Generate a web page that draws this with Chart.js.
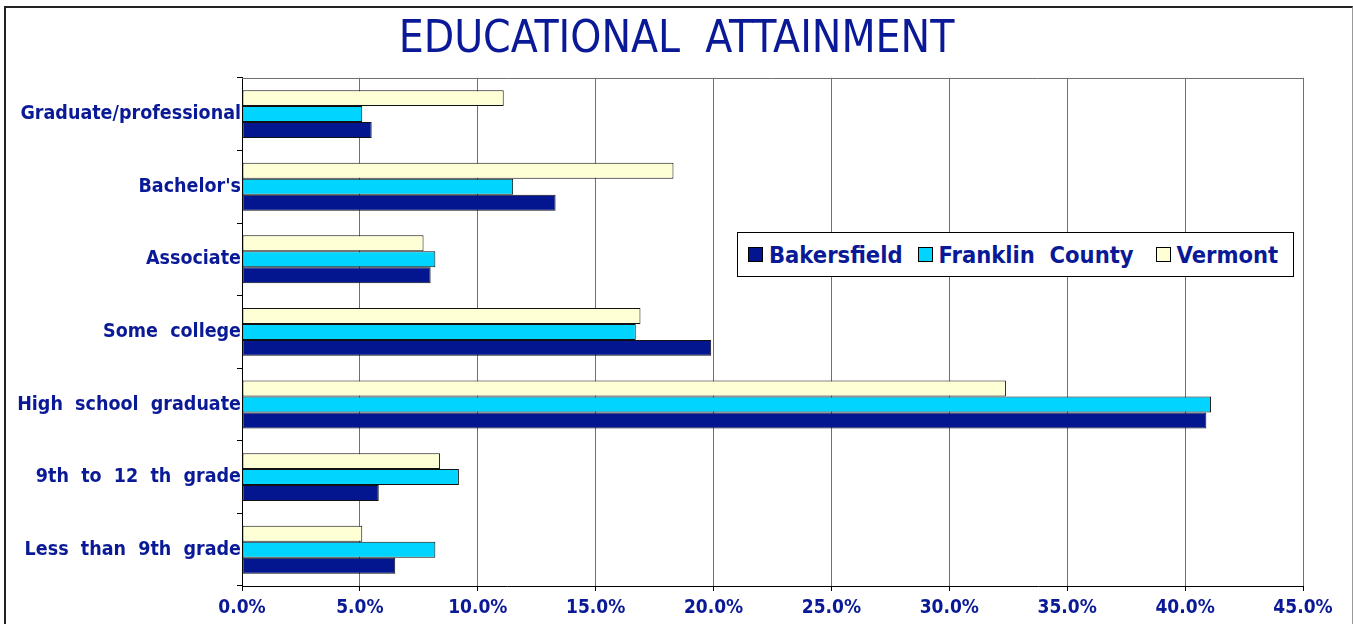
<!DOCTYPE html>
<html>
<head>
<meta charset="utf-8">
<script src="https://cdn.jsdelivr.net/npm/chart.js@4.4.0/dist/chart.umd.min.js"></script>
<style>
html,body{margin:0;padding:0;background:#fff;width:1353px;height:624px;overflow:hidden;}
#frame{position:absolute;left:4px;top:6px;width:1349px;height:660px;box-sizing:border-box;border-left:2px solid #222;border-top:2px solid #222;border-right:1px solid #999;}
#wrap{position:absolute;left:0;top:0;width:1353px;height:624px;}
#legend{position:absolute;left:737px;top:232px;width:557px;height:45px;box-sizing:border-box;border:1px solid #000;background:#fff;display:flex;align-items:center;padding-left:10px;font-family:"DejaVu Sans Condensed","DejaVu Sans",sans-serif;font-weight:bold;font-size:23.5px;color:#0a1996;white-space:pre;}
#legend .item{display:flex;align-items:center;}
#legend .item:nth-child(1){margin-right:15px;}
#legend .item:nth-child(2){margin-right:22px;}
#legend .sw{width:15px;height:15px;box-sizing:border-box;border:1px solid #000;margin-right:6px;}
</style>
</head>
<body>
<div id="frame"></div>
<div id="wrap"><canvas id="c" width="1353" height="624"></canvas></div>
<div id="legend"></div>
<script>
// ---- data ----
const categories = ["Graduate/professional", "Bachelor's", "Associate", "Some  college", "High  school  graduate", "9th  to  12  th  grade", "Less  than  9th  grade"];
const seriesNames = ["Bakersfield", "Franklin  County", "Vermont"];
const bakersfield    = [5.5, 13.3, 8.0, 19.9, 40.9, 5.8, 6.5];
const franklinCounty = [5.1, 11.5, 8.2, 16.7, 41.1, 9.2, 8.2];
const vermont        = [11.1, 18.3, 7.7, 16.9, 32.4, 8.4, 5.1];
const xTickValues = [0, 5, 10, 15, 20, 25, 30, 35, 40, 45];
const titleText = "EDUCATIONAL  ATTAINMENT";

// ---- styles ----
const navyText = '#0a1996';
const colors = { bakersfield: '#03168f', franklin: '#00d4ff', vermont: '#ffffd6' };
const labelFont = '"DejaVu Sans Condensed","DejaVu Sans",sans-serif';

const series = [
  { name: seriesNames[0], data: bakersfield, color: colors.bakersfield },
  { name: seriesNames[1], data: franklinCounty, color: colors.franklin },
  { name: seriesNames[2], data: vermont, color: colors.vermont }
];

// Datasets drawn top-to-bottom within each group: Vermont, Franklin, Bakersfield
const datasets = series.slice().reverse().map(s => ({
  label: s.name,
  data: s.data,
  yAxisID: 'y',
  backgroundColor: s.color,
  borderColor: '#111',
  borderWidth: 1,
  borderSkipped: false,
  barPercentage: 1.0,
  categoryPercentage: 0.66
}));

const plotTop = {
  id: 'plotTop',
  beforeDatasetsDraw(chart) {
    const { ctx, chartArea: a } = chart;
    ctx.save();
    ctx.strokeStyle = '#707070';
    ctx.lineWidth = 1;
    ctx.beginPath();
    ctx.moveTo(a.left, Math.round(a.top) + 0.5);
    ctx.lineTo(a.right, Math.round(a.top) + 0.5);
    ctx.stroke();
    ctx.restore();
  }
};

new Chart(document.getElementById('c'), {
  type: 'bar',
  data: { labels: categories, datasets },
  options: {
    indexAxis: 'y',
    responsive: false,
    animation: false,
    devicePixelRatio: 1,
    layout: { padding: { left: 0, right: 0, top: 0, bottom: 0 } },
    plugins: {
      legend: { display: false },
      tooltip: { enabled: false },
      title: {
        display: true,
        text: titleText,
        color: navyText,
        font: { family: '"DejaVu Sans Condensed","DejaVu Sans",sans-serif', size: 44, weight: 'normal', lineHeight: 1.2 },
        padding: { top: 14, bottom: 11 }
      }
    },
    scales: {
      x: {
        min: xTickValues[0],
        max: xTickValues[xTickValues.length - 1],
        afterBuildTicks(scale) { scale.ticks = xTickValues.map(v => ({ value: v })); },
        ticks: {
          color: navyText,
          font: { family: labelFont, size: 19, weight: 'bold' },
          padding: 6,
          maxRotation: 0,
          callback: v => Number(v).toFixed(1) + '%'
        },
        grid: { color: '#707070', tickColor: '#000', tickLength: 5, lineWidth: 1 },
        border: { display: true, color: '#000', width: 1 },
        afterFit(s) { s.height = 38; }
      },
      y: {
        ticks: {
          color: navyText,
          font: { family: labelFont, size: 19.5, weight: 'bold' },
          padding: -4,
          autoSkip: false
        },
        grid: { drawOnChartArea: false, color: '#000', tickLength: 5, offset: true },
        border: { display: true, color: '#000', width: 1 },
        afterFit(s) { s.width = 242; }
      },
      yRight: {
        type: 'category',
        position: 'right',
        display: true,
        ticks: { display: false },
        grid: { display: false },
        border: { display: false },
        afterFit(s) { s.width = 50; }
      }
    }
  },
  plugins: [plotTop]
});

// HTML legend (Bakersfield, Franklin County, Vermont)
const legendEl = document.getElementById('legend');
series.forEach(s => {
  const item = document.createElement('div');
  item.className = 'item';
  const sw = document.createElement('span');
  sw.className = 'sw';
  sw.style.background = s.color;
  const tx = document.createElement('span');
  tx.textContent = s.name;
  item.appendChild(sw);
  item.appendChild(tx);
  legendEl.appendChild(item);
});
</script>
</body>
</html>
